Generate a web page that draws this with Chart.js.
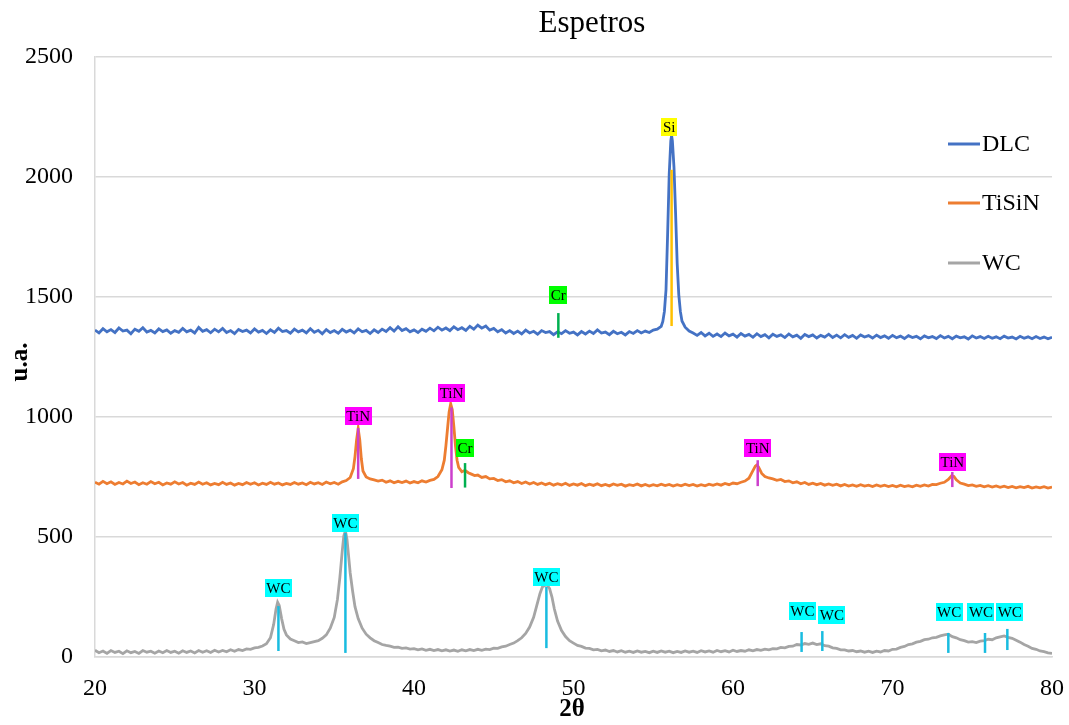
<!DOCTYPE html>
<html>
<head>
<meta charset="utf-8">
<title>Espetros</title>
<script src="https://cdn.jsdelivr.net/npm/chart.js@4.4.1/dist/chart.umd.min.js"></script>
<style>
  html, body { margin: 0; padding: 0; background: #ffffff; }
  #chartEspetros { display: block; }
</style>
</head>
<body>
<canvas id="chartEspetros" width="1069" height="725"></canvas>
<script>

// series names (legend order)
var seriesNames = ["DLC", "TiSiN", "WC"];

// DLC spectrum: [2theta, u.a.]
var dlc = [
  [20,1362],[20.25,1350],[20.5,1368],[20.75,1355],[21,1364],[21.25,1352],[21.5,1371],[21.75,1358],
  [22,1362],[22.25,1347],[22.5,1366],[22.75,1357],[23,1372],[23.25,1354],[23.5,1361],[23.75,1350],
  [24,1367],[24.25,1356],[24.5,1363],[24.75,1349],[25,1360],[25.25,1353],[25.5,1369],[25.75,1355],
  [26,1362],[26.25,1350],[26.5,1373],[26.75,1357],[27,1364],[27.25,1351],[27.5,1366],[27.75,1355],
  [28,1369],[28.25,1352],[28.5,1360],[28.75,1347],[29,1365],[29.25,1356],[29.5,1362],[29.75,1350],
  [30,1367],[30.25,1354],[30.5,1361],[30.75,1348],[31,1363],[31.25,1352],[31.5,1370],[31.75,1356],
  [32,1360],[32.25,1349],[32.5,1366],[32.75,1355],[33,1362],[33.25,1350],[33.5,1368],[33.75,1353],
  [34,1361],[34.25,1347],[34.5,1364],[34.75,1352],[35,1360],[35.25,1349],[35.5,1365],[35.75,1354],
  [36,1362],[36.25,1350],[36.5,1367],[36.75,1355],[37,1361],[37.25,1348],[37.5,1363],[37.75,1352],
  [38,1366],[38.25,1356],[38.5,1372],[38.75,1358],[39,1376],[39.25,1360],[39.5,1368],[39.75,1355],
  [40,1363],[40.25,1352],[40.5,1366],[40.75,1357],[41,1370],[41.25,1359],[41.5,1374],[41.75,1362],
  [42,1371],[42.25,1360],[42.5,1376],[42.75,1364],[43,1372],[43.25,1361],[43.5,1378],[43.75,1366],
  [44,1383],[44.25,1370],[44.5,1379],[44.75,1362],[45,1369],[45.25,1355],[45.5,1364],[45.75,1350],
  [46,1360],[46.25,1348],[46.5,1358],[46.75,1346],[47,1362],[47.25,1350],[47.5,1357],[47.75,1345],
  [48,1360],[48.25,1352],[48.5,1356],[48.75,1343],[49,1355],[49.25,1347],[49.5,1360],[49.75,1349],
  [50,1354],[50.25,1342],[50.5,1356],[50.75,1346],[51,1358],[51.25,1348],[51.5,1363],[51.75,1350],
  [52,1354],[52.25,1343],[52.5,1357],[52.75,1347],[53,1353],[53.25,1342],[53.5,1356],[53.75,1348],
  [54,1360],[54.25,1350],[54.5,1358],[54.75,1352],[55,1362],[55.25,1366],[55.5,1378],[55.6,1398],
  [55.7,1440],[55.8,1530],[55.9,1760],[56,2010],[56.1,2150],[56.15,2172],[56.2,2150],[56.3,2040],
  [56.4,1850],[56.5,1640],[56.6,1510],[56.7,1440],[56.8,1400],[57,1374],[57.25,1358],[57.5,1350],
  [57.75,1340],[58,1352],[58.25,1338],[58.5,1349],[58.75,1336],[59,1346],[59.25,1335],[59.5,1350],
  [59.75,1338],[60,1345],[60.25,1333],[60.5,1348],[60.75,1337],[61,1344],[61.25,1332],[61.5,1347],
  [61.75,1335],[62,1343],[62.25,1330],[62.5,1345],[62.75,1336],[63,1342],[63.25,1331],[63.5,1346],
  [63.75,1334],[64,1341],[64.25,1328],[64.5,1344],[64.75,1335],[65,1342],[65.25,1329],[65.5,1340],
  [65.75,1333],[66,1345],[66.25,1331],[66.5,1341],[66.75,1330],[67,1343],[67.25,1332],[67.5,1340],
  [67.75,1328],[68,1342],[68.25,1333],[68.5,1339],[68.75,1329],[69,1341],[69.25,1331],[69.5,1338],
  [69.75,1328],[70,1340],[70.25,1330],[70.5,1337],[70.75,1327],[71,1339],[71.25,1331],[71.5,1336],
  [71.75,1326],[72,1338],[72.25,1330],[72.5,1335],[72.75,1327],[73,1339],[73.25,1329],[73.5,1336],
  [73.75,1326],[74,1337],[74.25,1330],[74.5,1334],[74.75,1325],[75,1338],[75.25,1329],[75.5,1335],
  [75.75,1327],[76,1336],[76.25,1328],[76.5,1334],[76.75,1326],[77,1337],[77.25,1329],[77.5,1333],
  [77.75,1325],[78,1336],[78.25,1328],[78.5,1334],[78.75,1326],[79,1335],[79.25,1327],[79.5,1333],
  [79.75,1326],[80,1332]
];

// TiSiN spectrum
var tisin = [
  [20,728],[20.25,720],[20.5,732],[20.75,722],[21,730],[21.25,719],[21.5,727],[21.75,721],
  [22,733],[22.25,723],[22.5,729],[22.75,718],[23,726],[23.25,720],[23.5,731],[23.75,722],
  [24,728],[24.25,717],[24.5,725],[24.75,720],[25,730],[25.25,721],[25.5,727],[25.75,716],
  [26,724],[26.25,719],[26.5,729],[26.75,720],[27,726],[27.25,717],[27.5,723],[27.75,718],
  [28,728],[28.25,719],[28.5,725],[28.75,716],[29,723],[29.25,718],[29.5,727],[29.75,720],
  [30,726],[30.25,717],[30.5,724],[30.75,719],[31,728],[31.25,720],[31.5,725],[31.75,717],
  [32,723],[32.25,719],[32.5,727],[32.75,720],[33,725],[33.25,718],[33.5,728],[33.75,721],
  [34,726],[34.25,719],[34.5,729],[34.75,722],[35,727],[35.25,720],[35.5,730],[35.75,735],
  [36,748],[36.2,785],[36.3,835],[36.4,905],[36.5,952],[36.6,905],[36.7,825],[36.8,775],
  [37,750],[37.25,742],[37.5,738],[37.75,733],[38,737],[38.25,728],[38.5,734],[38.75,726],
  [39,732],[39.25,727],[39.5,733],[39.75,725],[40,731],[40.25,726],[40.5,734],[40.75,729],
  [41,736],[41.25,740],[41.5,752],[41.75,780],[41.9,820],[42,880],[42.1,950],[42.2,1020],
  [42.3,1055],[42.4,1030],[42.5,960],[42.6,880],[42.7,820],[42.8,790],[43,772],[43.2,778],
  [43.4,768],[43.6,762],[43.8,756],[44,758],[44.25,748],[44.5,752],[44.75,742],[45,744],
  [45.25,735],[45.5,739],[45.75,730],[46,734],[46.25,726],[46.5,731],[46.75,723],[47,729],
  [47.25,721],[47.5,727],[47.75,719],[48,725],[48.25,718],[48.5,724],[48.75,716],[49,722],
  [49.25,717],[49.5,724],[49.75,715],[50,721],[50.25,716],[50.5,723],[50.75,714],[51,720],
  [51.25,715],[51.5,722],[51.75,714],[52,719],[52.25,713],[52.5,721],[52.75,715],[53,720],
  [53.25,712],[53.5,718],[53.75,714],[54,721],[54.25,713],[54.5,719],[54.75,712],[55,718],
  [55.25,713],[55.5,720],[55.75,714],[56,719],[56.25,712],[56.5,718],[56.75,713],[57,720],
  [57.25,714],[57.5,719],[57.75,712],[58,718],[58.25,713],[58.5,720],[58.75,715],[59,721],
  [59.25,716],[59.5,723],[59.75,718],[60,725],[60.25,722],[60.5,728],[60.75,733],[61,745],
  [61.2,770],[61.4,795],[61.5,800],[61.6,792],[61.8,765],[62,752],[62.25,746],[62.5,742],
  [62.75,736],[63,740],[63.25,731],[63.5,734],[63.75,726],[64,730],[64.25,722],[64.5,727],
  [64.75,719],[65,724],[65.25,718],[65.5,723],[65.75,716],[66,721],[66.25,715],[66.5,720],
  [66.75,713],[67,719],[67.25,712],[67.5,717],[67.75,711],[68,718],[68.25,712],[68.5,716],
  [68.75,710],[69,717],[69.25,711],[69.5,716],[69.75,710],[70,715],[70.25,709],[70.5,716],
  [70.75,710],[71,714],[71.25,709],[71.5,716],[71.75,711],[72,717],[72.25,712],[72.5,719],
  [72.75,718],[73,724],[73.25,728],[73.5,740],[73.7,755],[73.85,752],[74,738],[74.25,725],
  [74.5,720],[74.75,714],[75,717],[75.25,711],[75.5,715],[75.75,709],[76,714],[76.25,708],
  [76.5,713],[76.75,707],[77,712],[77.25,706],[77.5,711],[77.75,705],[78,710],[78.25,706],
  [78.5,711],[78.75,704],[79,709],[79.25,705],[79.5,710],[79.75,704],[80,708]
];

// WC spectrum
var wc = [
  [20,28],[20.25,18],[20.5,25],[20.75,15],[21,27],[21.25,19],[21.5,24],[21.75,14],
  [22,26],[22.25,18],[22.5,23],[22.75,15],[23,27],[23.25,20],[23.5,24],[23.75,16],
  [24,25],[24.25,18],[24.5,27],[24.75,19],[25,24],[25.25,16],[25.5,26],[25.75,19],
  [26,25],[26.25,17],[26.5,27],[26.75,20],[27,26],[27.25,19],[27.5,28],[27.75,21],
  [28,27],[28.25,22],[28.5,30],[28.75,24],[29,31],[29.25,27],[29.5,34],[29.75,32],
  [30,38],[30.25,40],[30.5,46],[30.75,55],[31,80],[31.2,135],[31.35,200],[31.45,228],
  [31.55,215],[31.7,160],[31.85,115],[32,92],[32.25,75],[32.5,68],[32.75,60],[33,63],
  [33.25,56],[33.5,60],[33.75,64],[34,68],[34.25,78],[34.5,92],[34.75,120],[35,165],
  [35.2,240],[35.35,330],[35.5,440],[35.6,505],[35.7,525],[35.8,490],[35.9,420],[36,350],
  [36.15,275],[36.3,210],[36.5,160],[36.75,120],[37,95],[37.25,80],[37.5,68],[37.75,60],
  [38,52],[38.25,48],[38.5,45],[38.75,40],[39,41],[39.25,36],[39.5,38],[39.75,33],
  [40,35],[40.25,30],[40.5,34],[40.75,28],[41,32],[41.25,27],[41.5,31],[41.75,26],
  [42,30],[42.25,25],[42.5,29],[42.75,24],[43,30],[43.25,26],[43.5,31],[43.75,27],
  [44,32],[44.25,28],[44.5,33],[44.75,31],[45,37],[45.25,36],[45.5,42],[45.75,45],
  [46,52],[46.25,58],[46.5,68],[46.75,80],[47,98],[47.25,125],[47.5,165],[47.7,215],
  [47.9,265],[48.05,292],[48.2,298],[48.35,300],[48.5,285],[48.65,250],[48.8,200],[49,150],
  [49.25,110],[49.5,85],[49.75,68],[50,58],[50.25,48],[50.5,44],[50.75,37],[51,36],
  [51.25,30],[51.5,32],[51.75,26],[52,29],[52.25,23],[52.5,27],[52.75,21],[53,26],
  [53.25,20],[53.5,24],[53.75,19],[54,25],[54.25,20],[54.5,23],[54.75,18],[55,24],
  [55.25,19],[55.5,25],[55.75,20],[56,24],[56.25,18],[56.5,23],[56.75,19],[57,25],
  [57.25,20],[57.5,24],[57.75,19],[58,26],[58.25,21],[58.5,25],[58.75,20],[59,27],
  [59.25,22],[59.5,26],[59.75,21],[60,28],[60.25,23],[60.5,27],[60.75,24],[61,30],
  [61.25,26],[61.5,31],[61.75,28],[62,33],[62.25,30],[62.5,35],[62.75,34],[63,40],
  [63.25,38],[63.5,44],[63.75,45],[64,52],[64.25,50],[64.5,56],[64.75,53],[65,58],
  [65.25,52],[65.5,55],[65.75,47],[66,45],[66.25,38],[66.5,36],[66.75,30],[67,30],
  [67.25,25],[67.5,27],[67.75,22],[68,25],[68.25,20],[68.5,24],[68.75,19],[69,24],
  [69.25,21],[69.5,27],[69.75,25],[70,32],[70.25,33],[70.5,40],[70.75,44],[71,52],
  [71.25,55],[71.5,62],[71.75,65],[72,72],[72.25,74],[72.5,80],[72.75,82],[73,88],
  [73.25,92],[73.5,95],[73.75,85],[74,80],[74.25,72],[74.5,68],[74.75,62],[75,64],
  [75.25,60],[75.5,66],[75.75,68],[76,74],[76.25,72],[76.5,80],[76.75,84],[77,88],
  [77.25,82],[77.5,78],[77.75,70],[78,62],[78.25,52],[78.5,45],[78.75,36],[79,32],
  [79.25,25],[79.5,22],[79.75,17],[80,15]
];

// phase markers: position, label, line top / bottom, label anchor (data units)
var peakPos    = [56.15, 49.05, 36.5, 42.35, 43.2, 61.55, 73.75, 31.5, 35.7, 48.3, 64.3, 65.6, 73.5, 75.8, 77.2];
var peakLabel  = ["Si", "Cr", "TiN", "TiN", "Cr", "TiN", "TiN", "WC", "WC", "WC", "WC", "WC", "WC", "WC", "WC"];
var peakTop    = [2030, 1433, 954, 1040, 808, 820, 771, 212, 517, 292, 104, 108, 100, 100, 117];
var peakBottom = [1379, 1330, 742, 704, 706, 712, 708, 25, 17, 37, 21, 25, 17, 17, 29];
var labelX     = [56.0, 49.05, 36.5, 42.35, 43.2, 61.55, 73.75, 31.5, 35.7, 48.3, 64.35, 66.2, 73.55, 75.55, 77.35];
var labelY     = [2208, 1508, 1004, 1100, 871, 871, 812, 287, 558, 333, 192, 175, 188, 188, 188];

var phaseStyle = {
    "Si":  { line: "#FFC000", box: "#FFFF00" },
    "Cr":  { line: "#00B050", box: "#00FF00" },
    "TiN": { line: "#CC3FCC", box: "#FF00FF" },
    "WC":  { line: "#19BCE0", box: "#00FFFF" }
};

var serifFont = "'Liberation Serif', 'Times New Roman', serif";
var seriesColors = ["#4472C4", "#ED7D31", "#A5A5A5"];

function toPoints(pairs) {
    return pairs.map(function(p) { return { x: p[0], y: p[1] }; });
}

// marker lines go first so they are drawn on top of the spectra
var datasets = [];
for (var i = 0; i < peakPos.length; i++) {
    datasets.push({
        label: peakLabel[i],
        data: [{ x: peakPos[i], y: peakBottom[i] }, { x: peakPos[i], y: peakTop[i] }],
        borderColor: phaseStyle[peakLabel[i]].line,
        borderWidth: 2.5,
        pointRadius: 0
    });
}
[dlc, tisin, wc].forEach(function(s, k) {
    datasets.push({
        label: seriesNames[k],
        data: toPoints(s),
        borderColor: seriesColors[k],
        borderWidth: 2.8,
        pointRadius: 0,
        tension: 0
    });
});

// phase labels, legend, title and axis titles
var decorPlugin = {
    id: "decor",
    afterDatasetsDraw: function(chart) {
        var ctx = chart.ctx;
        var xs = chart.scales.x, ys = chart.scales.y;
        ctx.save();
        ctx.font = "15px " + serifFont;
        ctx.textAlign = "center";
        ctx.textBaseline = "middle";
        for (var i = 0; i < peakLabel.length; i++) {
            var cx = xs.getPixelForValue(labelX[i]);
            var cy = ys.getPixelForValue(labelY[i]);
            var w = ctx.measureText(peakLabel[i]).width + 3;
            ctx.fillStyle = phaseStyle[peakLabel[i]].box;
            ctx.fillRect(Math.round(cx - w / 2), Math.round(cy - 9), Math.round(w), 18);
            ctx.fillStyle = "#000000";
            ctx.fillText(peakLabel[i], cx, cy + 1);
        }

        // legend
        ctx.font = "24px " + serifFont;
        ctx.textAlign = "left";
        var legendY = [144, 203, 263];
        for (var k = 0; k < seriesNames.length; k++) {
            ctx.strokeStyle = seriesColors[k];
            ctx.lineWidth = 3;
            ctx.beginPath();
            ctx.moveTo(948, legendY[k]);
            ctx.lineTo(980, legendY[k]);
            ctx.stroke();
            ctx.fillStyle = "#000000";
            ctx.fillText(seriesNames[k], 982, legendY[k] + 1);
        }
        ctx.restore();
    },
    afterDraw: function(chart) {
        var ctx = chart.ctx;
        ctx.save();
        ctx.fillStyle = "#000000";
        ctx.textAlign = "center";
        ctx.textBaseline = "middle";
        ctx.font = "31px " + serifFont;
        ctx.fillText("Espetros", 592, 24);

        ctx.font = "bold 25px " + serifFont;
        ctx.fillText("2\u03B8", 572, 710);

        ctx.translate(21, 362);
        ctx.rotate(-Math.PI / 2);
        ctx.fillText("u.a.", 0, 0);
        ctx.restore();
    }
};

new Chart(document.getElementById("chartEspetros"), {
    type: "line",
    data: { datasets: datasets },
    options: {
        responsive: false,
        devicePixelRatio: 1,
        animation: false,
        layout: { padding: { top: 57, right: 17, left: 0, bottom: 0 } },
        plugins: {
            legend: { display: false },
            title: { display: false },
            tooltip: { enabled: false }
        },
        scales: {
            x: {
                type: "linear",
                min: 20,
                max: 80,
                ticks: {
                    stepSize: 10,
                    padding: 17,
                    color: "#000000",
                    font: { family: serifFont, size: 24 }
                },
                grid: { display: false, drawTicks: false },
                border: { display: true, color: "#D9D9D9", width: 1.5 },
                afterFit: function(scale) {
                    scale.height = 68;
                    scale.paddingLeft = 0;
                    scale.paddingRight = 0;
                }
            },
            y: {
                min: 0,
                max: 2500,
                ticks: {
                    stepSize: 500,
                    padding: 22,
                    color: "#000000",
                    font: { family: serifFont, size: 24 },
                    callback: function(value) { return String(value); }
                },
                grid: { color: "#D9D9D9", lineWidth: 1.5, drawTicks: false },
                border: { display: true, color: "#D9D9D9", width: 1.5 },
                afterFit: function(scale) { scale.width = 95; }
            }
        }
    },
    plugins: [decorPlugin]
});
</script>
</body>
</html>
